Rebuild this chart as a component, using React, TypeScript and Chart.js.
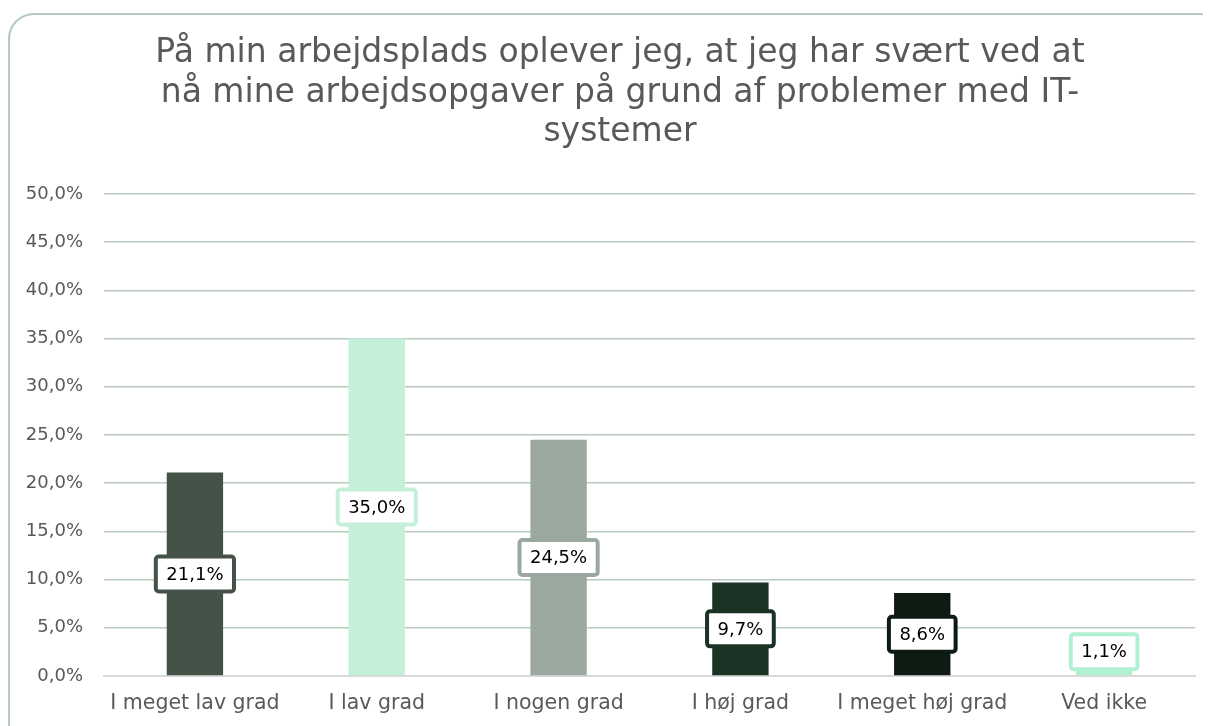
import React, { useEffect, useRef } from "react";
import { Chart, registerables } from "chart.js";

Chart.register(...registerables);

const titleLines = [
  "På min arbejdsplads oplever jeg, at jeg har svært ved at",
  "nå mine arbejdsopgaver på grund af problemer med IT-",
  "systemer",
];
const categories = [
  "I meget lav grad",
  "I lav grad",
  "I nogen grad",
  "I høj grad",
  "I meget høj grad",
  "Ved ikke",
];
const values = [21.1, 35.0, 24.5, 9.7, 8.6, 1.1];
const barColors = ["#445248", "#c4f0d9", "#9ba8a0", "#1b3324", "#0e1b13", "#b2f0d2"];
const yTicks = { min: 0, max: 50, step: 5 };

const fmt = (v: number) => v.toFixed(1).replace(".", ",") + "%";

const titlePlugin = {
  id: "centeredTitle",
  afterDraw(chart: any) {
    const ctx = chart.ctx;
    ctx.save();
    ctx.font = "33px 'DejaVu Sans'";
    ctx.fillStyle = "#595959";
    ctx.textAlign = "center";
    ctx.textBaseline = "middle";
    const lineH = 39.3;
    titleLines.forEach((line, i) => {
      ctx.fillText(line, 612, 26 + lineH * (i + 0.5));
    });
    ctx.restore();
  },
};

const labelPlugin = {
  id: "boxLabels",
  afterDatasetsDraw(chart: any) {
    const ctx = chart.ctx;
    const meta = chart.getDatasetMeta(0);
    ctx.save();
    ctx.font = "18px 'DejaVu Sans'";
    ctx.textAlign = "center";
    ctx.textBaseline = "middle";
    meta.data.forEach((el: any, i: number) => {
      const text = fmt(values[i]);
      const tw = ctx.measureText(text).width;
      const w = tw + 25;
      const h = 39;
      let cy = (el.y + el.base) / 2;
      if (cy + h / 2 > el.base - 4) cy = el.base - 4 - h / 2;
      const x = el.x;
      ctx.beginPath();
      ctx.roundRect(x - w / 2 + 2, cy - h / 2 + 2, w - 4, h - 4, 3);
      ctx.fillStyle = "#ffffff";
      ctx.fill();
      ctx.lineWidth = 4;
      ctx.strokeStyle = barColors[i];
      ctx.stroke();
      ctx.fillStyle = "#000000";
      ctx.fillText(text, x, cy + 1);
    });
    ctx.restore();
  },
};

export default function App() {
  const ref = useRef<HTMLCanvasElement | null>(null);
  useEffect(() => {
    document.documentElement.style.overflow = "hidden";
    const chart = new Chart(ref.current as HTMLCanvasElement, {
      type: "bar",
      data: {
        labels: categories,
        datasets: [
          {
            data: values,
            backgroundColor: barColors,
            borderWidth: 0,
            barPercentage: 0.31,
            categoryPercentage: 1,
          },
        ],
      },
      options: {
        animation: false,
        responsive: false,
        layout: { padding: { left: 0, right: 30, top: 186, bottom: 0 } },
        plugins: {
          legend: { display: false },
          tooltip: { enabled: false },
          title: { display: false },
        },
        scales: {
          x: {
            afterFit: (scale: any) => {
              scale.height = 50;
            },
            grid: { display: false, drawTicks: false },
            border: { display: true, color: "#d9d9d9", width: 2 },
            ticks: {
              color: "#595959",
              font: { family: "'DejaVu Sans'", size: 20.5 },
              padding: 15,
              maxRotation: 0,
            },
          },
          y: {
            min: yTicks.min,
            max: yTicks.max,
            afterFit: (scale: any) => {
              scale.width = 96;
            },
            ticks: {
              stepSize: yTicks.step,
              color: "#595959",
              font: { family: "'DejaVu Sans'", size: 18 },
              padding: 21,
              callback: (v: any) => fmt(Number(v)),
            },
            grid: {
              color: (c: any) => (c.tick && c.tick.value === 0 ? "rgba(0,0,0,0)" : "#b8cabf"),
              lineWidth: 1.5,
              drawTicks: false,
            },
            border: { display: false },
          },
        },
      },
      plugins: [labelPlugin, titlePlugin],
    });
    return () => chart.destroy();
  }, []);

  return (
    <div style={{ position: "relative", width: 1203, height: 718, overflow: "hidden" }}>
      <div
        style={{
          position: "absolute",
          left: 0,
          top: 5,
          width: 1217,
          height: 760,
          boxSizing: "border-box",
          border: "2px solid #b4c8bd",
          borderRadius: 26,
        }}
      />
      <canvas
        ref={ref}
        width={1217}
        height={718}
        style={{ position: "absolute", left: 0, top: 0, width: 1217, height: 718 }}
      />
    </div>
  );
}
